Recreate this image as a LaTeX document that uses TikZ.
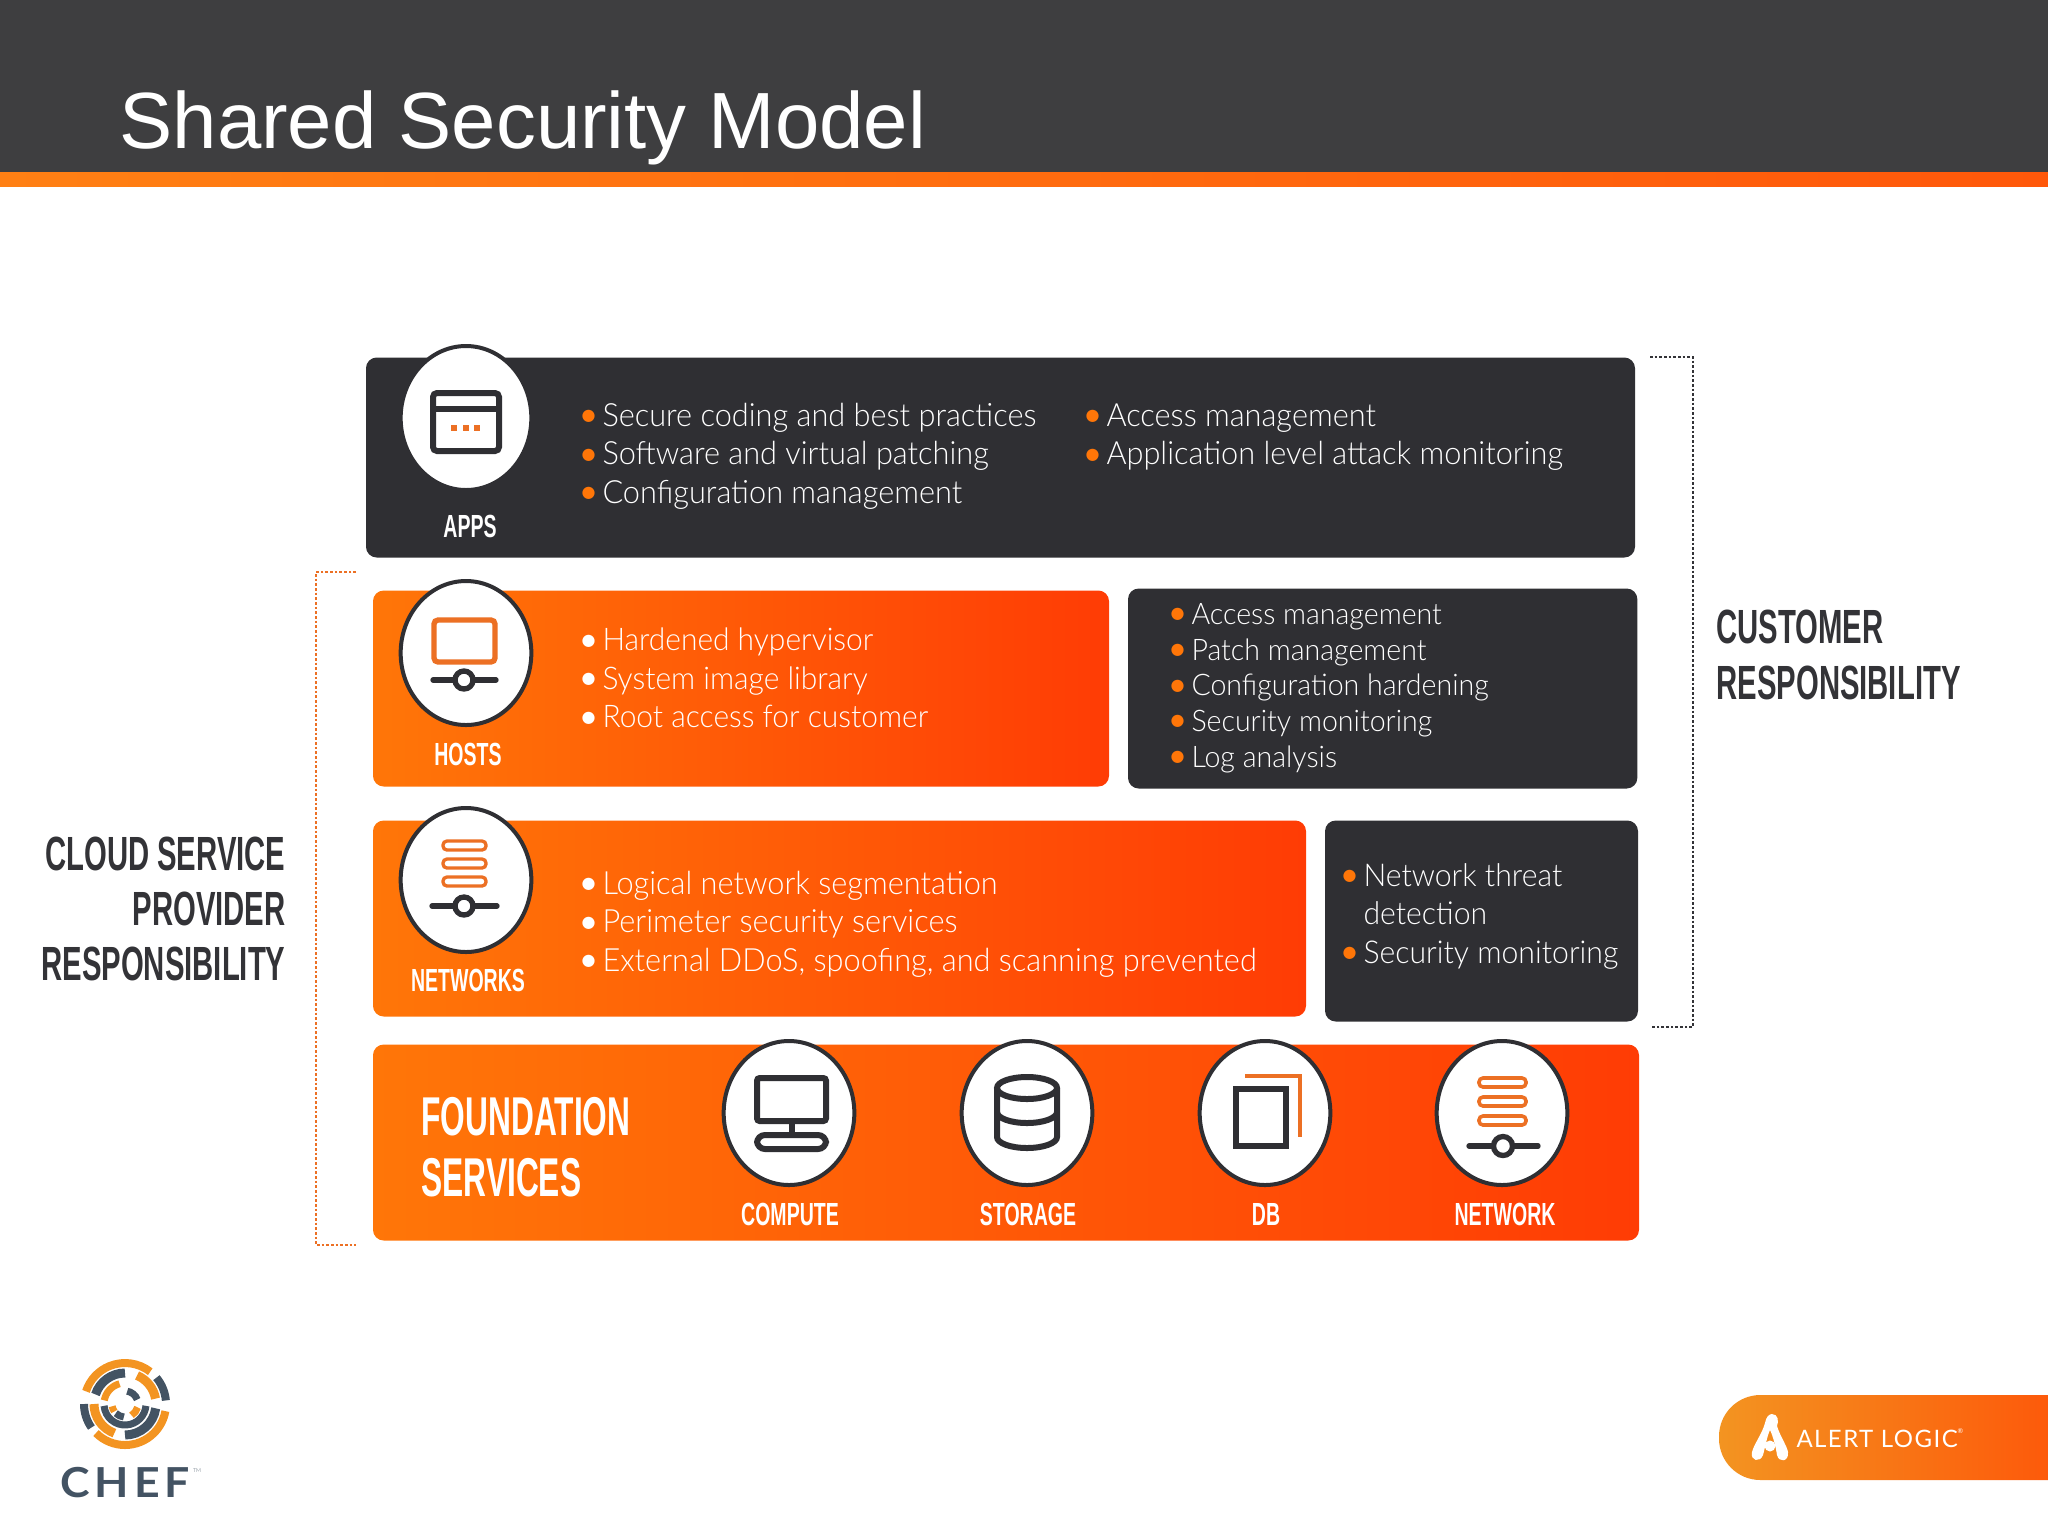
\documentclass[tikz,border=0pt]{standalone}
\usepackage{fontspec}
\setmainfont{Lato Light}
\newfontfamily\bodyfont[FakeStretch=0.96]{Lato Light}
\newfontfamily\capsfont[FakeStretch=0.61]{Liberation Sans Bold}
\newfontfamily\basefont[FakeStretch=0.58]{Liberation Sans Bold}
\newfontfamily\titlefont{Liberation Sans}
\newfontfamily\cheffont[FakeStretch=1.08,LetterSpace=12]{Lato Bold}
\newfontfamily\alertfont[LetterSpace=6]{Lato}
\newfontfamily\dotfont{DejaVu Sans}
\usetikzlibrary{shapes.geometric}
\definecolor{panelgray}{RGB}{47,47,51}
\definecolor{headgray}{RGB}{62,62,64}
\definecolor{textgray}{RGB}{51,51,55}
\definecolor{fadeorange}{RGB}{255,118,8}
\definecolor{hotorange}{RGB}{255,60,5}
\definecolor{iconorange}{RGB}{236,112,36}
\definecolor{bandorange}{RGB}{255,128,20}
\definecolor{bandend}{RGB}{255,88,10}
\definecolor{chefnavy}{RGB}{67,83,99}
\definecolor{cheforange}{RGB}{243,148,33}
\newcommand{\bul}[1]{\makebox[15.75pt][l]{\raisebox{4.2pt}{\textcolor{#1}{\dotfont\fontsize{12}{12}\selectfont ●}}}}
\tikzset{every picture/.style={line width=0.75pt}}
\tikzset{
darkpanel/.style={rectangle,rounded corners=8pt,fill=panelgray,anchor=north west,inner sep=0pt},
hotpanel/.style={rectangle,rounded corners=8pt,left color=fadeorange,right color=hotorange,anchor=north west,inner sep=0pt},
iconring/.style={ellipse,draw=panelgray,line width=3pt,fill=white,minimum width=98pt,minimum height=108pt,inner sep=0pt},
bulletlist/.style={anchor=west,align=left,inner sep=0pt,text=white,font=\bodyfont\fontsize{24}{28.9}\selectfont},
smalllist/.style={bulletlist,font=\bodyfont\fontsize{22.3}{26.8}\selectfont},
tierlabel/.style={inner sep=0pt,text=white,font=\capsfont\fontsize{24}{28}\selectfont},
sidelabel/.style={inner sep=0pt,align=left,text=textgray,font=\capsfont\fontsize{36}{41.5}\selectfont},
iconline/.style={draw=panelgray,line width=4pt,line cap=round},
hotline/.style={draw=iconorange,line width=3.5pt},
}
\begin{document}
\begin{tikzpicture}[x=0.75pt,y=0.75pt,yscale=-1,xscale=1]
\useasboundingbox (0,0) rectangle (2048,1536);

%header
\fill [headgray] (0,0) rectangle (2048,172);
\fill [left color=bandorange,right color=bandend] (0,172) rectangle (2048,186);
\node (title) [anchor=base west,inner sep=0pt,text=white,font=\titlefont\fontsize{59.8}{70}\selectfont] at (119,148) {Shared Security Model};

%panels
\node (appsbox) [darkpanel,minimum width=951.75pt,minimum height=150pt] at (365.5,357) {};
\node (hostsbox) [hotpanel,minimum width=552pt,minimum height=147pt] at (372.5,590) {};
\node (hostsduty) [darkpanel,minimum width=382pt,minimum height=150pt] at (1127.5,588) {};
\node (netsbox) [hotpanel,minimum width=699.75pt,minimum height=147pt] at (372.5,820) {};
\node (netsduty) [darkpanel,minimum width=234.75pt,minimum height=150.75pt] at (1324.5,820) {};
\node (basebox) [hotpanel,minimum width=949.5pt,minimum height=147pt] at (372.5,1044) {};

%brackets
\coordinate (provtop) at (356,572);
\coordinate (provbot) at (356,1245);
\coordinate (custtop) at (1650,357);
\coordinate (custbot) at (1650,1027);
\draw [iconorange,dash pattern=on 2pt off 1.5pt,line width=1.5pt] (provtop) -- (316,572) -- (316,1245) -- (provbot);
\draw [textgray,dash pattern=on 2pt off 1.5pt,line width=1.5pt] (custtop) -- (1693,357) -- (1693,1027) -- (custbot);

%icon rings
\node (appsring) [iconring] at (466,418) {};
\node (hostsring) [iconring] at (466,653) {};
\node (netsring) [iconring] at (466,880) {};
\node (computering) [iconring] at (789,1113) {};
\node (storagering) [iconring] at (1027,1113) {};
\node (dbring) [iconring] at (1265,1113) {};
\node (networkring) [iconring] at (1502,1113) {};

%apps icon
\draw [draw=panelgray,line width=4.5pt,rounded corners=3pt] (433,393) rectangle (499,451);
\draw [draw=panelgray,line width=4.5pt] (433,409) -- (499,409);
\foreach \dotx in {454,466,477} \fill [iconorange] (\dotx-3,425) rectangle (\dotx+3,431);

%hosts icon
\draw [hotline,line width=4pt,rounded corners=3pt] (434,620) rectangle (495,662);
\draw [iconline] (433,680) -- (496,680);
\draw [draw=panelgray,line width=4pt,fill=white] (464,680) circle (9);

%networks icon
\foreach \slaby in {841,859,877} \draw [hotline,line width=2.5pt,rounded corners=3pt] (443,\slaby) rectangle (486,\slaby+9);
\draw [iconline] (432,906) -- (497,906);
\draw [draw=panelgray,line width=4pt,fill=white] (464,906) circle (9);

%compute icon
\draw [draw=panelgray,line width=4.5pt,rounded corners=2pt] (757,1078) rectangle (826,1121);
\draw [iconline,line cap=butt] (792,1123) -- (792,1134);
\draw [draw=panelgray,line width=4.5pt,rounded corners=6pt] (757,1135) rectangle (826,1149);

%storage icon
\draw [draw=panelgray,line width=4.5pt] (1027,1088) ellipse (30 and 11);
\draw [draw=panelgray,line width=4.5pt] (997,1088) -- (997,1137) arc (180:0:30 and 11) -- (1057,1088);
\draw [draw=panelgray,line width=4.5pt] (997,1112) arc (180:0:30 and 11);

%db icon
\draw [draw=panelgray,line width=4.5pt] (1236,1089) rectangle (1286,1146);
\draw [hotline] (1245,1076) -- (1300,1076) -- (1300,1137);

%network icon
\foreach \slaby in {1078,1097,1116} \draw [hotline,line width=2.7pt,rounded corners=3pt] (1479,\slaby) rectangle (1526,\slaby+9);
\draw [iconline] (1469,1146) -- (1538,1146);
\draw [draw=panelgray,line width=4pt,fill=white] (1503,1146) circle (9.5);

%tier labels
\node (appslab) [tierlabel] at (470,526) {APPS};
\node (hostslab) [tierlabel] at (468,754) {HOSTS};
\node (netslab) [tierlabel] at (468,980) {NETWORKS};
\node (computelab) [tierlabel] at (790,1214) {COMPUTE};
\node (storagelab) [tierlabel] at (1028,1214) {STORAGE};
\node (dblab) [tierlabel] at (1266,1214) {DB};
\node (networklab) [tierlabel] at (1505,1214) {NETWORK};
\node (baselab) [tierlabel,anchor=west,align=left,font=\basefont\fontsize{41}{46}\selectfont] at (421,1147) {FOUNDATION\\SERVICES};

%side labels
\node (custlab) [sidelabel,anchor=west] at (1716,655) {CUSTOMER\\RESPONSIBILITY};
\node (provlab) [sidelabel,anchor=east,align=right] at (286,909) {CLOUD SERVICE\\PROVIDER\\RESPONSIBILITY};

%lists
\node (appslist) [bulletlist] at (581,456) {\bul{fadeorange}Secure coding and best practices\\\bul{fadeorange}Software and virtual patching\\\bul{fadeorange}Configuration management};
\node (appsduty) [bulletlist] at (1085,437) {\bul{fadeorange}Access management\\\bul{fadeorange}Application level attack monitoring};
\node (hostslist) [bulletlist,font=\bodyfont\fontsize{23.4}{28.9}\selectfont] at (581,678) {\bul{white}Hardened hypervisor\\\bul{white}System image library\\\bul{white}Root access for customer};
\node (hostsdutylist) [smalllist] at (1170,688) {\bul{fadeorange}Access management\\\bul{fadeorange}Patch management\\\bul{fadeorange}Configuration hardening\\\bul{fadeorange}Security monitoring\\\bul{fadeorange}Log analysis};
\node (netslist) [bulletlist] at (581,924) {\bul{white}Logical network segmentation\\\bul{white}Perimeter security services\\\bul{white}External DDoS, spoofing, and scanning prevented};
\node (netsdutylist) [bulletlist,font=\bodyfont\fontsize{23.6}{28.9}\selectfont] at (1342,916) {\bul{fadeorange}Network threat\\\hspace*{15.75pt}detection\\\bul{fadeorange}Security monitoring};

%chef logo
\begin{scope}[shift={(125,1404)},yscale=-1]
\foreach \from/\to/\rad/\wid/\tone in {52/162/41/8/cheforange,5/40/41/8/chefnavy,180/215/41/8/chefnavy,-135/-10/41/8/cheforange,
90/162/31/9/chefnavy,10/67/31/9/cheforange,180/250/31/9/cheforange,-90/-8/31/9/chefnavy,
-175/-5/21/7/chefnavy,105/170/21/7/cheforange,190/215/13/7/cheforange,20/80/13/7/chefnavy,225/265/13/7/chefnavy,-60/-15/13/7/cheforange}
\draw [\tone,line width=\wid*0.75pt] (\from:\rad) arc (\from:\to:\rad);
\end{scope}
\node (cheflab) [inner sep=0pt,text=chefnavy,font=\cheffont\fontsize{31}{36}\selectfont] at (125,1483) {CHEF};
\node (chefmark) [inner sep=0pt,text=chefnavy,font=\fontsize{4}{5}\selectfont] at (197,1471) {TM};

%alert logic tab
\path [left color=cheforange,right color=hotorange!70!fadeorange,rounded corners=31pt] (2120,1395) -- (1719,1395) -- (1719,1480) -- (2120,1480) -- cycle;
\fill [white] (1772,1414) .. controls (1778,1414) and (1779,1421) .. (1777,1426) .. controls (1780,1436) and (1787,1446) .. (1788,1452) .. controls (1789,1462) and (1779,1463) .. (1777,1455) .. controls (1776,1448) and (1773,1436) .. (1770,1430) .. controls (1767,1436) and (1765,1448) .. (1763,1455) .. controls (1760,1463) and (1750,1461) .. (1752,1452) .. controls (1754,1444) and (1762,1434) .. (1765,1423) .. controls (1766,1417) and (1769,1414) .. (1772,1414) -- cycle;
\fill [white] (1770,1446) circle (5.5);
\node (alertlab) [anchor=west,inner sep=0pt,text=white,font=\alertfont\fontsize{18}{20}\selectfont] at (1796,1438) {ALERT LOGIC\raisebox{1.2ex}{\fontsize{5}{6}\selectfont ®}};
\end{tikzpicture}
\end{document}
